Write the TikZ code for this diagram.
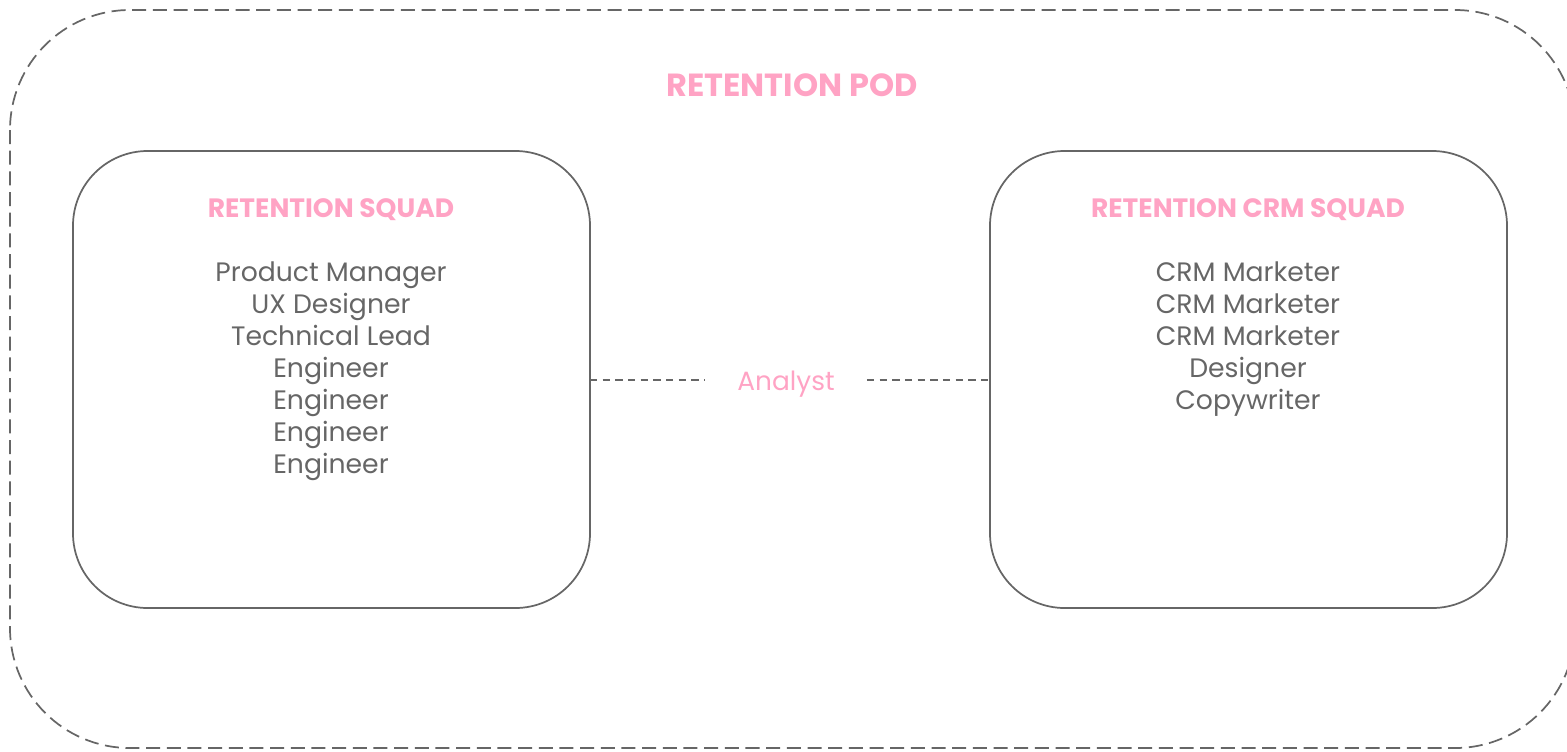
\documentclass[tikz,border=0pt]{standalone}
\usepackage{fontspec}
\setmainfont{Poppins}
\definecolor{pinktxt}{HTML}{FFA3C4}
\definecolor{graytxt}{HTML}{666666}
\definecolor{grayline}{HTML}{666666}
\tikzset{
  pod/.style={draw=grayline, line width=1.3pt, dash pattern=on 10.5pt off 5pt, rounded corners=90pt},
  squad/.style={draw=grayline, line width=1.3pt, rounded corners=56pt},
  link/.style={draw=grayline, line width=1.3pt, dash pattern=on 5.5pt off 4pt},
  podtitle/.style={text=pinktxt, font=\fontsize{24}{28}\selectfont\bfseries, inner sep=0pt},
  squadtitle/.style={text=pinktxt, font=\fontsize{19.9}{24}\selectfont\bfseries, inner sep=0pt},
  members/.style={text=graytxt, font=\fontsize{20}{24}\selectfont, align=center, inner sep=0pt, anchor=north},
  analyst/.style={text=pinktxt, font=\fontsize{19.8}{24}\selectfont, inner xsep=24pt, inner ysep=0pt}
}
\begin{document}
\begin{tikzpicture}[x=0.75pt, y=-0.75pt]
\useasboundingbox (0,0) rectangle (1567,751);
\clip (0,0) rectangle (1567,751);
\path[pod] (10,10) rectangle (1575,748);
\node[podtitle] (pt) at (792,85) {RETENTION POD};
\path[squad] (73,151) rectangle (590,608);
\path[squad] (990,151) rectangle (1507,608);
\coordinate (L) at (590,380);
\coordinate (R) at (990,380);
\node[squadtitle] (lt) at (331,210) {RETENTION SQUAD};
\node[squadtitle] (rt) at (1248,210) {RETENTION CRM SQUAD};
\node[members] (lm) at (331,261) {Product Manager\\UX Designer\\Technical Lead\\Engineer\\Engineer\\Engineer\\Engineer};
\node[members] (rm) at (1248,261) {CRM Marketer\\CRM Marketer\\CRM Marketer\\Designer\\Copywriter};
\node[analyst] (an) at (786,384) {Analyst};
\path[link] (L) -- (L -| an.west);
\path[link] (R -| an.east) -- (R);
\end{tikzpicture}
\end{document}
